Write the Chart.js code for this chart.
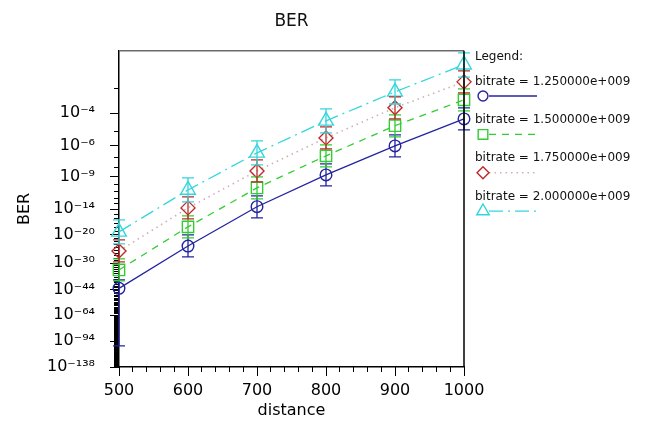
<!DOCTYPE html>
<html><head><meta charset="utf-8">
<script src="https://cdn.jsdelivr.net/npm/chart.js@4/dist/chart.umd.min.js"></script>
<style>html,body{margin:0;padding:0;background:#fff}#wrap{width:647px;height:421px;position:relative}</style>
</head><body><div id="wrap"><canvas id="c"></canvas></div>
<script>
// ---------- data ----------
const distances = [500, 600, 700, 800, 900, 1000];
const seriesLabels = ['bitrate = 1.250000e+009', 'bitrate = 1.500000e+009', 'bitrate = 1.750000e+009', 'bitrate = 2.000000e+009'];
const ber125 = [5e-44, 3e-24, 3e-14, 1.7e-9, 1e-6, 5.2e-5];
const ber150 = [7e-34, 1.2e-18, 3.5e-11, 1.5e-7, 2.2e-5, 3.85e-4];
const ber175 = [6e-26, 1.8e-14, 4.8e-9, 3.8e-6, 1.8e-4, 1.65e-3];
const ber200 = [5.7e-20, 1.8e-11, 2.7e-7, 4.1e-5, 7.7e-4, 4.9e-3];
// error bar bounds (low BER / high BER)
const errLo125 = [1e-101, 3.4e-28, 1.6e-16, 6.8e-11, 1.2e-7, 1.26e-5];
const errHi125 = [5e-39, 8.5e-21, 2.2e-12, 2.6e-8, 6e-6, 1.78e-4];
const errLo150 = [1.3e-39, 1.1e-21, 7.2e-13, 1.3e-8, 4.5e-6, 1.3e-4];
const errHi150 = [5e-29, 4.3e-16, 1e-9, 1.2e-6, 8.4e-5, 9.8e-4];
const errLo175 = [3e-30, 9.6e-17, 2.3e-10, 5.8e-7, 5.2e-5, 7.1e-4];
const errHi175 = [2.7e-22, 1.6e-12, 6.5e-8, 1.9e-5, 5e-4, 3.4e-3];
const errLo200 = [1.5e-23, 2.2e-13, 2.1e-8, 8.2e-6, 2.6e-4, 2.3e-3];
const errHi200 = [5.5e-17, 7.4e-10, 2.35e-6, 1.6e-4, 1.9e-3, 9.1e-3];
// axis ticks
const xTickLabels = ['500', '600', '700', '800', '900', '1000'];
const yMajorExps = [4, 6, 9, 14, 20, 30, 44, 64, 94, 138];
const yTickLabels = ['10\u207B\u2074', '10\u207B\u2076', '10\u207B\u2079', '10\u207B\u00B9\u2074', '10\u207B\u00B2\u2070', '10\u207B\u00B3\u2070', '10\u207B\u2074\u2074', '10\u207B\u2076\u2074', '10\u207B\u2079\u2074', '10\u207B\u00B9\u00B3\u2078'];
const yMinExp = 138, yMaxExp = 2;
const legendTitle = 'Legend:';

// ---------- Q-factor (log) BER scale ----------
function lnErfc(z) {
  const t = 1 / (1 + 0.5 * z);
  const p = -z * z - 1.26551223 + t * (1.00002368 + t * (0.37409196 + t * (0.09678418 + t * (-0.18628806 + t * (0.27886807 + t * (-1.13520398 + t * (1.48851587 + t * (-0.82215223 + t * 0.17087277))))))));
  return Math.log(t) + p;
}
function log10Ber(q) { return (Math.log(0.5) + lnErfc(q / Math.SQRT2)) / Math.LN10; }
function qOfBer(ber) {
  const target = Math.log10(ber);
  let lo = 0.01, hi = 60;
  for (let i = 0; i < 80; i++) { const m = (lo + hi) / 2; if (log10Ber(m) > target) lo = m; else hi = m; }
  return (lo + hi) / 2;
}
const qT = ber => Math.log10(qOfBer(ber));

class QberScale extends Chart.Scale {
  determineDataLimits() { this.min = this.options.min; this.max = this.options.max; }
  buildTicks() { return []; }
  getLabelForValue(v) { return String(v); }
  configure() { super.configure(); this._tMin = qT(this.min); this._tMax = qT(this.max); }
  getPixelForValue(v) {
    if (!(v > 0)) return NaN;
    return this.getPixelForDecimal((this._tMin - qT(v)) / (this._tMin - this._tMax));
  }
  getValueForPixel(p) {
    const d = this.getDecimalForPixel(p);
    const t = this._tMin - d * (this._tMin - this._tMax);
    return Math.pow(10, log10Ber(Math.pow(10, t)));
  }
}
QberScale.id = 'qber';
QberScale.defaults = {};
Chart.register(QberScale);

const FONT = '"DejaVu Sans", "Liberation Sans", Arial, sans-serif';
Chart.defaults.font.family = FONT;
Chart.defaults.color = '#000';

const colors = ['#2424a0', '#33cc33', '#c02828', '#33d6dc'];
const lineColors = ['#2424a0', '#33cc33', '#ccb2b2', '#33d6dc'];
const dashes = [[], [7, 6], [1.5, 4], [14, 5, 2, 5]];
const styles = ['circle', 'rect', 'rectRot', 'triangle'];
const radii = [5.8, 8, 7, 8.5];
const bers = [ber125, ber150, ber175, ber200];
const errs = [[errLo125, errHi125], [errLo150, errHi150], [errLo175, errHi175], [errLo200, errHi200]];

const datasets = bers.map((b, s) => ({
  type: 'line', label: seriesLabels[s],
  data: distances.map((d, i) => ({x: d, y: b[i]})),
  borderColor: lineColors[s], borderWidth: s === 2 ? 1.6 : 1.3, borderDash: dashes[s],
  pointStyle: styles[s], pointRadius: radii[s], pointBorderColor: colors[s],
  pointBackgroundColor: 'rgba(0,0,0,0)', pointBorderWidth: 1.4,
  tension: 0, clip: false, xAxisID: 'x', yAxisID: 'y'
}));

const majorBers = yMajorExps.map(e => Math.pow(10, -e));
const minorBers = [];
for (let e = yMaxExp + 1; e < yMinExp; e++) if (yMajorExps.indexOf(e) < 0) minorBers.push(Math.pow(10, -e));

const errorBarPlugin = {
  id: 'errorBars',
  afterDatasetsDraw(chart) {
    const {ctx, scales: {x, y}} = chart;
    ctx.save(); ctx.lineWidth = 1.3;
    errs.forEach((e, s) => {
      ctx.strokeStyle = colors[s];
      distances.forEach((d, i) => {
        const px = x.getPixelForValue(d), p1 = y.getPixelForValue(e[0][i]), p2 = y.getPixelForValue(e[1][i]);
        ctx.beginPath();
        ctx.moveTo(px, p1); ctx.lineTo(px, p2);
        ctx.moveTo(px - 6, p1); ctx.lineTo(px + 6, p1);
        ctx.moveTo(px - 6, p2); ctx.lineTo(px + 6, p2);
        ctx.stroke();
      });
    });
    ctx.restore();
  }
};

const framePlugin = {
  id: 'frame',
  afterDatasetsDraw(chart) {
    const {ctx, chartArea: a} = chart;
    ctx.save(); ctx.lineWidth = 1.5;
    ctx.strokeStyle = '#6a6a6a';
    ctx.beginPath(); ctx.moveTo(a.left, a.top); ctx.lineTo(a.right, a.top); ctx.stroke();
    ctx.strokeStyle = '#000';
    ctx.beginPath(); ctx.moveTo(a.right, a.top); ctx.lineTo(a.right, a.bottom); ctx.stroke();
    ctx.restore();
  }
};

function drawMarker(ctx, style, r, x, y) {
  if (Chart.helpers && Chart.helpers.drawPoint) {
    Chart.helpers.drawPoint(ctx, {pointStyle: style, radius: r, rotation: 0, borderWidth: 1.4}, x, y);
  }
}

const legendPlugin = {
  id: 'berLegend',
  afterDraw(chart) {
    const ctx = chart.ctx;
    ctx.save();
    ctx.font = '12px ' + FONT;
    ctx.fillStyle = '#111'; ctx.textAlign = 'left'; ctx.textBaseline = 'middle';
    ctx.fillText(legendTitle, 475, 57);
    datasets.forEach((ds, i) => {
      const ty = 81.5 + i * 38.4, sy = ty + 14.5;
      ctx.fillStyle = '#111';
      ctx.fillText(ds.label, 475, ty);
      ctx.save();
      ctx.strokeStyle = ds.borderColor; ctx.lineWidth = ds.borderWidth; ctx.setLineDash(ds.borderDash);
      ctx.beginPath(); ctx.moveTo(489, sy); ctx.lineTo(537, sy); ctx.stroke();
      ctx.restore();
      ctx.save();
      ctx.strokeStyle = ds.pointBorderColor; ctx.fillStyle = 'rgba(0,0,0,0)'; ctx.lineWidth = 1.4;
      drawMarker(ctx, ds.pointStyle, ds.pointRadius * 0.85, 483, sy);
      ctx.restore();
    });
    ctx.restore();
  }
};

new Chart(document.getElementById('c'), {
  type: 'line',
  data: {datasets},
  plugins: [errorBarPlugin, framePlugin, legendPlugin],
  options: {
    responsive: true, maintainAspectRatio: false, animation: false, devicePixelRatio: 1,
    layout: {padding: {left: 0, right: 183, top: 0, bottom: 0}},
    plugins: {
      legend: {display: false}, tooltip: {enabled: false},
      title: {display: true, text: 'BER', fullSize: false, color: '#111', font: {size: 17, weight: 'normal'}, padding: {top: 11, bottom: 19.4}}
    },
    scales: {
      x: {
        type: 'linear', position: 'bottom', min: 500, max: 1000,
        ticks: {stepSize: 100, color: '#000', font: {size: 16}, padding: 5, maxRotation: 0, autoSkip: false,
                callback: (v) => { const i = distances.indexOf(v); return i >= 0 ? xTickLabels[i] : ''; }},
        grid: {drawOnChartArea: false, drawTicks: true, tickLength: 9, tickColor: '#000', lineWidth: 1},
        border: {display: true, color: '#000', width: 1.5},
        title: {display: true, text: 'distance', color: '#000', font: {size: 16}, padding: {top: 0, bottom: 1}},
        afterFit: s => { s.height = 54; }
      },
      y: {
        type: 'qber', position: 'left', min: Math.pow(10, -yMinExp), max: Math.pow(10, -yMaxExp),
        afterBuildTicks: s => { s.ticks = majorBers.map(v => ({value: v})); },
        ticks: {callback: (v, i) => yTickLabels[i], autoSkip: false, padding: 15, color: '#000', font: {size: 16}},
        grid: {drawOnChartArea: false, drawTicks: true, tickLength: 9, tickColor: '#000', lineWidth: 1},
        border: {display: true, color: '#000', width: 1.5},
        title: {display: true, text: 'BER', color: '#000', font: {size: 16}, padding: {top: 15, bottom: 0}},
        afterFit: s => { s.width = 119; }
      },
      yMinor: {
        type: 'qber', axis: 'y', position: {x: 500}, min: Math.pow(10, -yMinExp), max: Math.pow(10, -yMaxExp),
        afterBuildTicks: s => { s.ticks = minorBers.map(v => ({value: v})); },
        ticks: {display: false},
        grid: {drawOnChartArea: false, drawTicks: true, tickLength: 5, tickColor: '#000', lineWidth: 1},
        border: {display: false}
      },
      xMinor: {
        type: 'linear', axis: 'x', position: {y: Math.pow(10, -yMinExp)}, min: 500, max: 1000,
        ticks: {display: false, stepSize: 20},
        grid: {drawOnChartArea: false, drawTicks: true, tickLength: 5, tickColor: '#000', lineWidth: 1},
        border: {display: false}
      }
    }
  }
});
</script></body></html>
